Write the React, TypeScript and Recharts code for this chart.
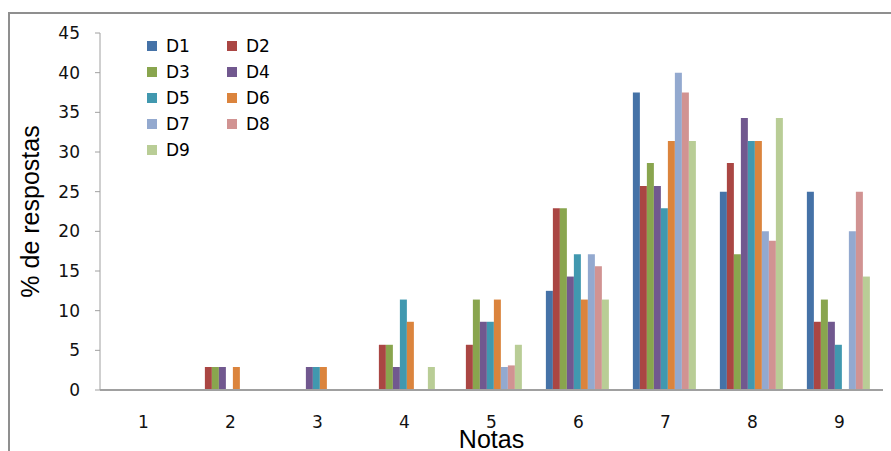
import { BarChart, Bar, XAxis, YAxis, Label } from "recharts";

const notas = ["1", "2", "3", "4", "5", "6", "7", "8", "9"];
const yTicks = [0, 5, 10, 15, 20, 25, 30, 35, 40, 45];

const d1 = [0, 0, 0, 0, 0, 12.5, 37.5, 25, 25];
const d2 = [0, 2.9, 0, 5.7, 5.7, 22.9, 25.7, 28.6, 8.6];
const d3 = [0, 2.9, 0, 5.7, 11.4, 22.9, 28.6, 17.1, 11.4];
const d4 = [0, 2.9, 2.9, 2.9, 8.6, 14.3, 25.7, 34.3, 8.6];
const d5 = [0, 0, 2.9, 11.4, 8.6, 17.1, 22.9, 31.4, 5.7];
const d6 = [0, 2.9, 2.9, 8.6, 11.4, 11.4, 31.4, 31.4, 0];
const d7 = [0, 0, 0, 0, 2.9, 17.1, 40, 20, 20];
const d8 = [0, 0, 0, 0, 3.1, 15.6, 37.5, 18.8, 25];
const d9 = [0, 0, 0, 2.9, 5.7, 11.4, 31.4, 34.3, 14.3];

const seriesNames = ["D1", "D2", "D3", "D4", "D5", "D6", "D7", "D8", "D9"];
const seriesValues = [d1, d2, d3, d4, d5, d6, d7, d8, d9];
const colors = [
  "#4572A7",
  "#AA4643",
  "#89A54E",
  "#71588F",
  "#4198AF",
  "#DB843D",
  "#93A9CF",
  "#D19392",
  "#B9CD96",
];

const data = notas.map((n, i) => {
  const row: Record<string, string | number> = { nota: n };
  seriesNames.forEach((s, k) => {
    row[s] = seriesValues[k][i];
  });
  return row;
});

const tickFont = "'DejaVu Sans', Verdana, sans-serif";
const titleFont = "'Liberation Sans', Arial, sans-serif";

// legend drawn as an overlay so it doesn't eat plot space
function LegendBox() {
  return (
    <div
      style={{
        position: "absolute",
        left: 147,
        top: 37,
        display: "grid",
        gridTemplateColumns: "80px 80px",
        rowGap: 9,
        fontFamily: tickFont,
        fontSize: 17,
        color: "#000",
      }}
    >
      {seriesNames.map((s, k) => (
        <div key={s} style={{ display: "flex", alignItems: "center", height: 17 }}>
          <span
            style={{
              display: "inline-block",
              width: 10,
              height: 10,
              background: colors[k],
              marginRight: 9,
            }}
          />
          {s}
        </div>
      ))}
    </div>
  );
}

export default function App() {
  return (
    <div
      style={{
        position: "absolute",
        left: 0,
        top: 0,
        width: 891,
        height: 451,
        overflow: "hidden",
        background: "#fff",
      }}
    >
      <div
        style={{
          position: "absolute",
          left: 8,
          top: 12,
          width: 900,
          height: 460,
          border: "2px solid #8f8f8f",
        }}
      />
      <BarChart
        width={891}
        height={451}
        data={data}
        margin={{ top: 33, right: 8, bottom: 31, left: 0 }}
        barCategoryGap="12.5%"
        barGap={0}
      >
        <XAxis
          dataKey="nota"
          height={30}
          tickLine={false}
          tickSize={0}
          tickMargin={26}
          axisLine={{ stroke: "#a0a0a0", strokeWidth: 2 }}
          tick={{ fontSize: 17, fill: "#111", fontFamily: tickFont }}
        >
          <Label
            value="Notas"
            position="insideBottom"
            offset={-28}
            style={{ fontSize: 25, fill: "#000", fontFamily: titleFont }}
          />
        </XAxis>
        <YAxis
          width={100}
          domain={[0, 45]}
          ticks={yTicks}
          interval={0}
          tickSize={5}
          tickMargin={15}
          axisLine={{ stroke: "#a0a0a0" }}
          tickLine={{ stroke: "#a0a0a0" }}
          tick={{ fontSize: 17, fill: "#111", fontFamily: tickFont }}
        >
          <Label
            value="% de respostas"
            angle={-90}
            position="insideLeft"
            offset={30}
            style={{ fontSize: 25, fill: "#000", fontFamily: titleFont, textAnchor: "middle" }}
          />
        </YAxis>
        {seriesNames.map((s, k) => (
          <Bar
            key={s}
            dataKey={s}
            fill={colors[k]}
            isAnimationActive={false}
          />
        ))}
      </BarChart>
      <LegendBox />
    </div>
  );
}
